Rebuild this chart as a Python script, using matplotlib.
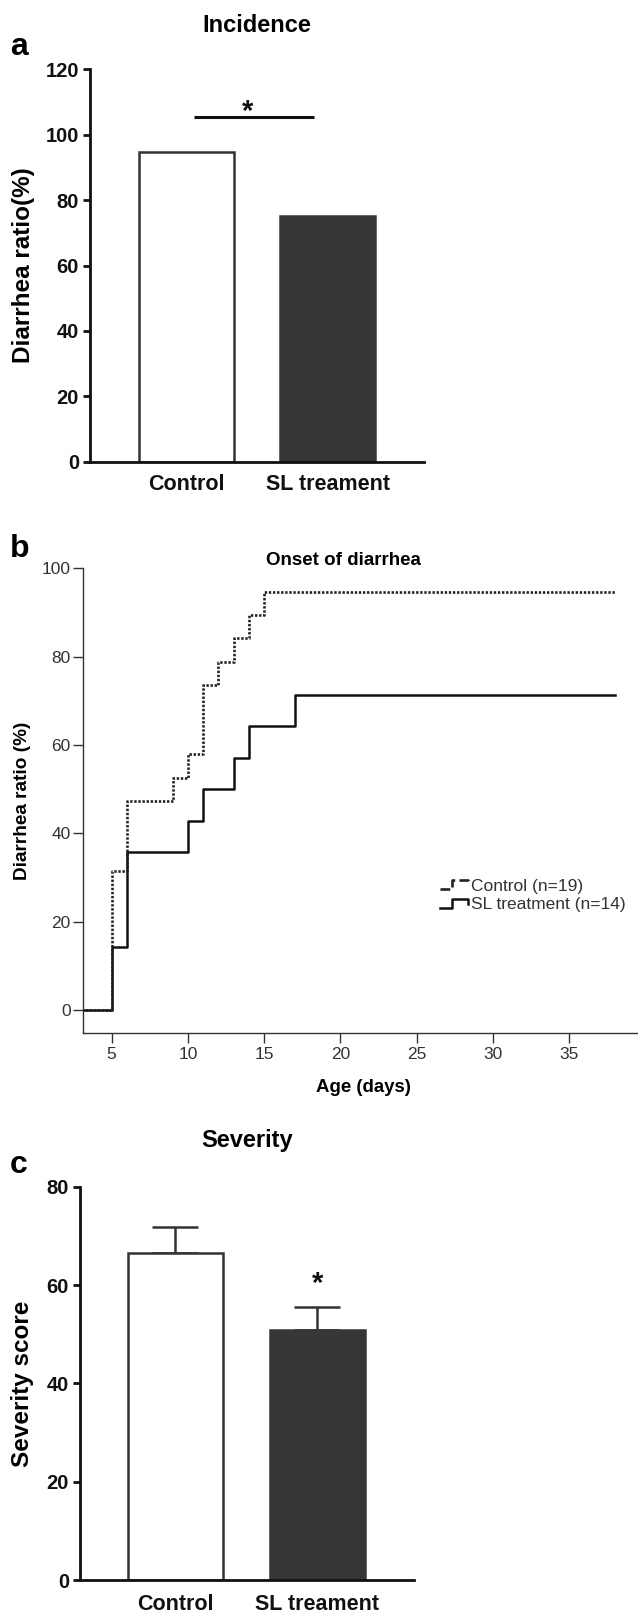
import numpy as np
import matplotlib
matplotlib.use("Agg")
import matplotlib.pyplot as plt
from matplotlib.lines import Line2D
from matplotlib.legend_handler import HandlerBase

plt.rcParams['font.family'] = ['Liberation Sans', 'DejaVu Sans']

# ---------------- data ----------------
groups = ["Control", "SL treament"]
incidence = [94.7, 75.1]
incidence_ticks = [0, 20, 40, 60, 80, 100, 120]

ctrl_days = [3, 5, 6, 9, 10, 11, 12, 13, 14, 15, 38]
ctrl_pct = [0, 31.6, 47.4, 52.6, 57.9, 73.7, 78.9, 84.2, 89.5, 94.7, 94.7]
sl_days = [3, 5, 6, 10, 11, 13, 14, 17, 38]
sl_pct = [0, 14.3, 35.7, 42.9, 50.0, 57.1, 64.3, 71.4, 71.4]
onset_yticks = [0, 20, 40, 60, 80, 100]
onset_xticks = [5, 10, 15, 20, 25, 30, 35]
legend_labels = ["Control (n=19)", "SL treatment (n=14)"]

severity = [66.6, 50.9]
severity_err = [5.3, 4.6]
severity_ticks = [0, 20, 40, 60, 80]

W, H = 638, 1616
fig = plt.figure(figsize=(W / 100, H / 100), dpi=100)


def ax_rect(x0, y0, x1, y1):
    return [x0 / W, 1 - y1 / H, (x1 - x0) / W, (y1 - y0) / H]


def fx(x):
    return x / W


def fy(y):
    return 1 - y / H


dark = '#333333'
fill = '#363636'

# ---------------- panel a ----------------
axa = fig.add_axes(ax_rect(90, 69.3, 424, 461.7))
xa = np.arange(len(groups))
axa.bar(xa, incidence, width=0.67, color=['white', fill],
        edgecolor=[dark, fill], linewidth=1.8, zorder=2)
axa.set_xlim(-0.68, 1.68)
axa.set_ylim(0, 120)
axa.set_yticks(incidence_ticks)
axa.set_xticks(xa)
axa.set_xticklabels(groups, fontsize=15.5, fontweight='bold')
for lab in axa.get_yticklabels():
    lab.set_fontweight('bold')
    lab.set_fontsize(14.5)
axa.tick_params(axis='y', length=5, width=2, pad=3, colors='#111111')
axa.tick_params(axis='x', length=0, pad=9, colors='#111111')
for s in ['top', 'right']:
    axa.spines[s].set_visible(False)
for s in ['left', 'bottom']:
    axa.spines[s].set_linewidth(2)
    axa.spines[s].set_color('#111111')
axa.plot([0.056, 0.90], [105.3, 105.3], color='#111111', lw=2.2, solid_capstyle='butt')
axa.text(0.43, 104.5, '*', ha='center', va='baseline', fontsize=21,
         fontweight='bold', color='#111111')
axa.set_ylabel('Diarrhea ratio(%)', fontsize=17.5, fontweight='bold', va='center')
axa.yaxis.set_label_coords(-0.198, 0.5)
fig.text(fx(257), fy(31.7), 'Incidence', ha='center', va='baseline',
         fontsize=17, fontweight='bold')
fig.text(fx(10), fy(55), 'a', ha='left', va='baseline', fontsize=23, fontweight='bold')

# ---------------- panel b ----------------
axb = fig.add_axes(ax_rect(83.3, 568.3, 638, 1032.7))
axb.step(sl_days, sl_pct, where='post', color='#111111', lw=1.8, label=legend_labels[1], zorder=2)
axb.step(ctrl_days, ctrl_pct, where='post', color='#222222', lw=1.9,
         linestyle=(0, (0.9, 0.65)), label=legend_labels[0], zorder=3)
axb.set_xlim(3.15, 39.5)
axb.set_ylim(-5.1, 100)
axb.set_yticks(onset_yticks)
axb.set_xticks(onset_xticks)
axb.tick_params(axis='both', length=7.5, width=1, colors='#333333', labelsize=12.5)
axb.tick_params(axis='y', pad=1.5)
axb.tick_params(axis='x', pad=2.5)
for s in ['top', 'right']:
    axb.spines[s].set_visible(False)
for s in ['left', 'bottom']:
    axb.spines[s].set_linewidth(1.0)
    axb.spines[s].set_color('#333333')


class StepHandler(HandlerBase):
    def create_artists(self, legend, orig_handle, xdescent, ydescent,
                       width, height, fontsize, trans):
        xs = np.array([0, 0.42, 0.42, 0.95, 0.95]) * width - xdescent
        ys = np.array([0.1, 0.1, 0.9, 0.9, 0.45]) * height - ydescent
        ln = Line2D(xs, ys, color=orig_handle.get_color(),
                    linestyle=orig_handle.get_linestyle(),
                    linewidth=orig_handle.get_linewidth(), transform=trans)
        return [ln]


hs, ls = axb.get_legend_handles_labels()
order = [1, 0]
leg = axb.legend([hs[i] for i in order], [ls[i] for i in order],
                 handler_map={Line2D: StepHandler()},
                 loc='upper left', bbox_to_anchor=((440 - 83.3) / 554.7, (1032.7 - 879) / 464.4),
                 frameon=False, fontsize=12.5, handlelength=1.7, handleheight=0.6,
                 handletextpad=0.1, labelspacing=0.2, borderpad=0, borderaxespad=0)
for t in leg.get_texts():
    t.set_color('#333333')
axb.set_ylabel('Diarrhea ratio (%)', fontsize=13.7, fontweight='bold', va='center')
axb.yaxis.set_label_coords(-0.1096, 0.5)
fig.text(fx(363), fy(1091.7), 'Age (days)', ha='center', va='baseline',
         fontsize=13.4, fontweight='bold')
fig.text(fx(343.5), fy(565), 'Onset of diarrhea', ha='center', va='baseline',
         fontsize=13.5, fontweight='bold')
fig.text(fx(10), fy(557), 'b', ha='left', va='baseline', fontsize=23, fontweight='bold')

# ---------------- panel c ----------------
axc = fig.add_axes(ax_rect(80, 1186.7, 414, 1580))
xc = np.arange(len(groups))
axc.bar(xc, severity, width=0.67, color=['white', fill],
        edgecolor=[dark, fill], linewidth=1.8, zorder=2)
axc.errorbar(xc, severity, yerr=[[0, 0], severity_err], fmt='none',
             ecolor=dark, elinewidth=1.8, capsize=16.5, capthick=1.8, zorder=1)
axc.set_xlim(-0.67, 1.68)
axc.set_ylim(0, 80)
axc.set_yticks(severity_ticks)
axc.set_xticks(xc)
axc.set_xticklabels(groups, fontsize=15.5, fontweight='bold')
for lab in axc.get_yticklabels():
    lab.set_fontweight('bold')
    lab.set_fontsize(14.5)
axc.tick_params(axis='y', length=5, width=2, pad=3, colors='#111111')
axc.tick_params(axis='x', length=0, pad=10, colors='#111111')
for s in ['top', 'right']:
    axc.spines[s].set_visible(False)
for s in ['left', 'bottom']:
    axc.spines[s].set_linewidth(2)
    axc.spines[s].set_color('#111111')
axc.text(1, 58.5, '*', ha='center', va='baseline', fontsize=21,
         fontweight='bold', color='#111111')
axc.set_ylabel('Severity score', fontsize=17.5, fontweight='bold', va='center')
axc.yaxis.set_label_coords(-0.171, 0.5)
fig.text(fx(247), fy(1146.7), 'Severity', ha='center', va='baseline',
         fontsize=17, fontweight='bold')
fig.text(fx(10), fy(1173), 'c', ha='left', va='baseline', fontsize=23, fontweight='bold')

fig.savefig('out.png', dpi=100)
